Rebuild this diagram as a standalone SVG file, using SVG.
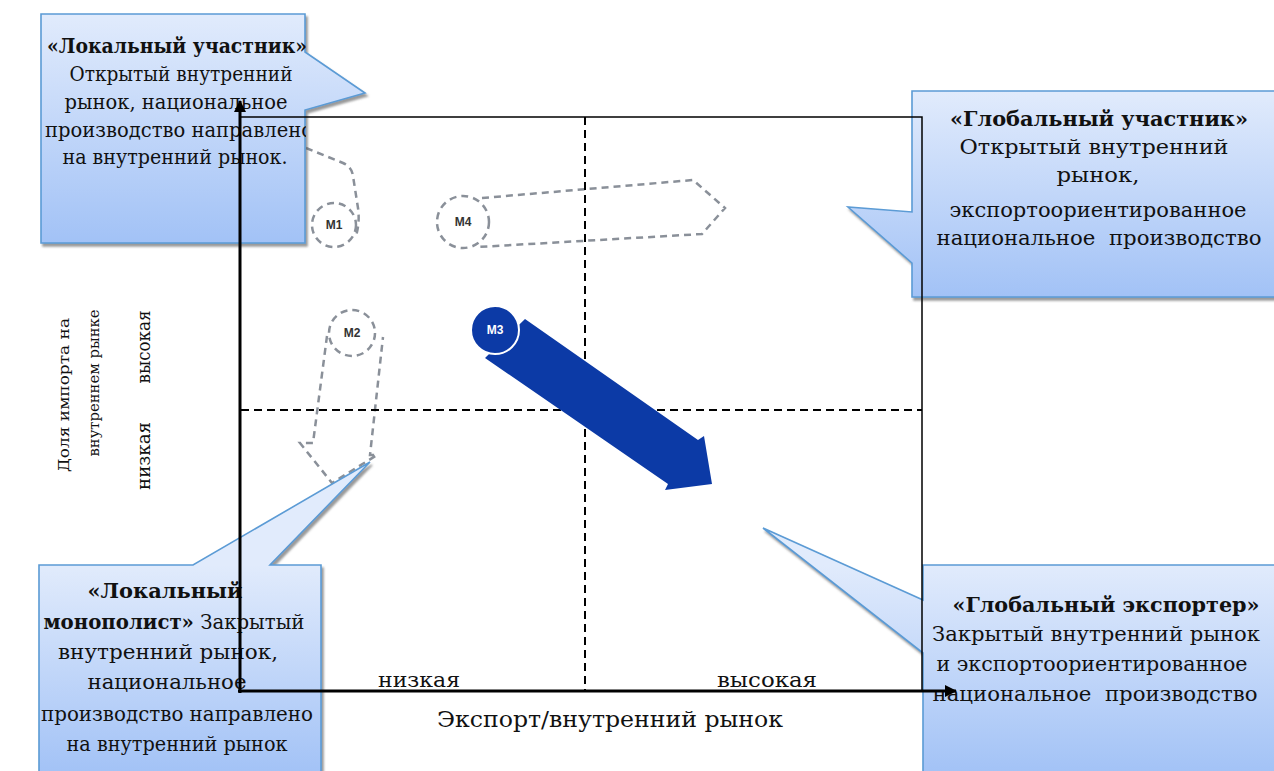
<svg xmlns="http://www.w3.org/2000/svg" width="1274" height="771" viewBox="0 0 1274 771">
<defs>
<style>
.t{font-family:"DejaVu Serif",serif;font-size:21px;fill:#111;text-anchor:middle}
.b{font-weight:bold}
.box{stroke:#5b9bd5;stroke-width:1.6}
.dash{fill:none;stroke:#8a9099;stroke-width:2.5;stroke-dasharray:7 5}
.ml{font-family:"Liberation Sans",Arial,sans-serif;font-size:12px;font-weight:bold;fill:#333;text-anchor:middle}
.grid{fill:none;stroke:#000;stroke-width:2;stroke-dasharray:8 5}
.frame{fill:none;stroke:#000;stroke-width:1.5}
.axis{fill:none;stroke:#000;stroke-width:3}
</style>
<linearGradient id="g1" gradientUnits="userSpaceOnUse" x1="0" y1="14" x2="0" y2="243"><stop offset="0" stop-color="#e1ebfc"/><stop offset="1" stop-color="#a2c2f6"/></linearGradient>
<linearGradient id="g2" gradientUnits="userSpaceOnUse" x1="0" y1="91" x2="0" y2="297"><stop offset="0" stop-color="#e1ebfc"/><stop offset="1" stop-color="#a2c2f6"/></linearGradient>
<linearGradient id="g3" gradientUnits="userSpaceOnUse" x1="0" y1="565" x2="0" y2="775"><stop offset="0" stop-color="#e1ebfc"/><stop offset="1" stop-color="#a2c2f6"/></linearGradient>
<filter id="sh" x="-10%" y="-10%" width="130%" height="130%"><feDropShadow dx="2" dy="3" stdDeviation="1" flood-color="#555" flood-opacity="0.6"/></filter>
<clipPath id="clipLP"><rect x="41" y="14" width="265" height="229"/></clipPath>
<marker id="ah" viewBox="0 0 12 12" refX="11" refY="6" markerWidth="12" markerHeight="12" markerUnits="userSpaceOnUse" orient="auto"><path d="M0,0 L12,6 L0,12 Z" fill="#000"/></marker>
</defs>
<rect width="1274" height="771" fill="#fff"/>

<g id="m1">
<path class="dash" d="M306,148 L343,163 Q352,167 353,176 L358,208 Q360,222 356,236"/>
<circle class="dash" cx="334" cy="225" r="22"/>
<text class="ml" x="334" y="229">M1</text>
</g>
<g id="m4">
<path class="dash" d="M482,198 L693,180 L725,208 L702,234 L478,247"/>
<circle class="dash" cx="463" cy="222" r="26"/>
<text class="ml" x="463" y="226">M4</text>
</g>
<g id="m2">
<path class="dash" d="M327,336 L313,443 L300,443 L332,483 L377,455 L370,455 L383,337"/>
<circle class="dash" cx="352" cy="333" r="23"/>
<text class="ml" x="352" y="337">M2</text>
</g>

<g id="grid">
<line class="grid" x1="585" y1="117" x2="585" y2="690"/>
<line class="grid" x1="241" y1="410" x2="922" y2="410"/>
</g>

<g id="m3">
<polygon points="485,358 525,319 698,440 704,436 712,484 665,490 668,484" fill="#0c3aa6"/>
<circle cx="495" cy="330" r="24" fill="#0c3aa6" stroke="#fff" stroke-width="2"/>
<text class="ml" x="495" y="334" style="fill:#fff">M3</text>
</g>

<g id="local-participant">
<path class="box" filter="url(#sh)" fill="url(#g1)" d="M41,14 H305 V52 L365,93 L305,110 V243 H41 Z"/>
<g clip-path="url(#clipLP)">
<text class="t b" x="177" y="53" textLength="260" lengthAdjust="spacingAndGlyphs">«Локальный участник»</text>
<text class="t" x="181" y="81" textLength="223" lengthAdjust="spacingAndGlyphs">Открытый внутренний</text>
<text class="t" x="176" y="109" textLength="223" lengthAdjust="spacingAndGlyphs">рынок, национальное</text>
<text class="t" x="179" y="137" textLength="268" lengthAdjust="spacingAndGlyphs">производство направлено</text>
<text class="t" x="175" y="164" textLength="225" lengthAdjust="spacingAndGlyphs">на внутренний рынок.</text>
</g>
</g>

<g id="global-participant">
<path class="box" filter="url(#sh)" fill="url(#g2)" d="M912,91 H1280 V297 H912 V263 L848,207 L912,212 Z"/>
<text class="t b" x="1099" y="126" textLength="298" lengthAdjust="spacingAndGlyphs">«Глобальный участник»</text>
<text class="t" x="1094" y="154" textLength="269" lengthAdjust="spacingAndGlyphs">Открытый внутренний</text>
<text class="t" x="1098" y="182" textLength="83" lengthAdjust="spacingAndGlyphs">рынок,</text>
<text class="t" x="1098" y="217" textLength="297" lengthAdjust="spacingAndGlyphs">экспортоориентированное</text>
<text class="t" x="1099" y="245" textLength="325" lengthAdjust="spacingAndGlyphs" xml:space="preserve">национальное  производство</text>
</g>

<g id="local-monopolist">
<path class="box" filter="url(#sh)" fill="url(#g3)" d="M39,565 H193 L370,462 L270,565 H321 V775 H39 Z"/>
<text class="t b" x="165" y="598" textLength="155" lengthAdjust="spacingAndGlyphs">«Локальный</text>
<text class="t" x="174" y="629" textLength="261" lengthAdjust="spacingAndGlyphs"><tspan class="b">монополист»</tspan> Закрытый</text>
<text class="t" x="168" y="659" textLength="220" lengthAdjust="spacingAndGlyphs">внутренний рынок,</text>
<text class="t" x="167" y="689" textLength="159" lengthAdjust="spacingAndGlyphs">национальное</text>
<text class="t" x="177" y="721" textLength="272" lengthAdjust="spacingAndGlyphs">производство направлено</text>
<text class="t" x="177" y="751" textLength="221" lengthAdjust="spacingAndGlyphs">на внутренний рынок</text>
</g>

<g id="global-exporter">
<path class="box" filter="url(#sh)" fill="url(#g3)" d="M923,565 H1280 V775 H923 V653 L763,528 L923,600 Z"/>
<text class="t b" x="1106" y="612" textLength="307" lengthAdjust="spacingAndGlyphs">«Глобальный экспортер»</text>
<text class="t" x="1096" y="641" textLength="328" lengthAdjust="spacingAndGlyphs">Закрытый внутренний рынок</text>
<text class="t" x="1092" y="671" textLength="311" lengthAdjust="spacingAndGlyphs">и экспортоориентированное</text>
<text class="t" x="1095" y="701" textLength="325" lengthAdjust="spacingAndGlyphs" xml:space="preserve">национальное  производство</text>
</g>

<g id="connectors">
<polyline class="frame" points="241,117 922,117 922,690"/>
<line class="axis" x1="240" y1="693" x2="240" y2="101" marker-end="url(#ah)"/>
<line class="axis" x1="238" y1="691" x2="956" y2="691" marker-end="url(#ah)"/>
</g>

<g id="axis-labels">
<text class="t" x="419" y="687" textLength="82" lengthAdjust="spacingAndGlyphs">низкая</text>
<text class="t" x="767" y="687" textLength="100" lengthAdjust="spacingAndGlyphs">высокая</text>
<text class="t" x="610" y="727" style="font-size:22px" textLength="346" lengthAdjust="spacingAndGlyphs">Экспорт/внутренний рынок</text>
<text class="t" transform="translate(69,395) rotate(-90)" style="font-size:15px" textLength="154" lengthAdjust="spacingAndGlyphs">Доля импорта на</text>
<text class="t" transform="translate(99,383) rotate(-90)" style="font-size:15px" textLength="147" lengthAdjust="spacingAndGlyphs">внутреннем рынке</text>
<text class="t" transform="translate(150,347) rotate(-90)" style="font-size:19px" textLength="73" lengthAdjust="spacingAndGlyphs">высокая</text>
<text class="t" transform="translate(150,456) rotate(-90)" style="font-size:19px" textLength="68" lengthAdjust="spacingAndGlyphs">низкая</text>
</g>
</svg>
